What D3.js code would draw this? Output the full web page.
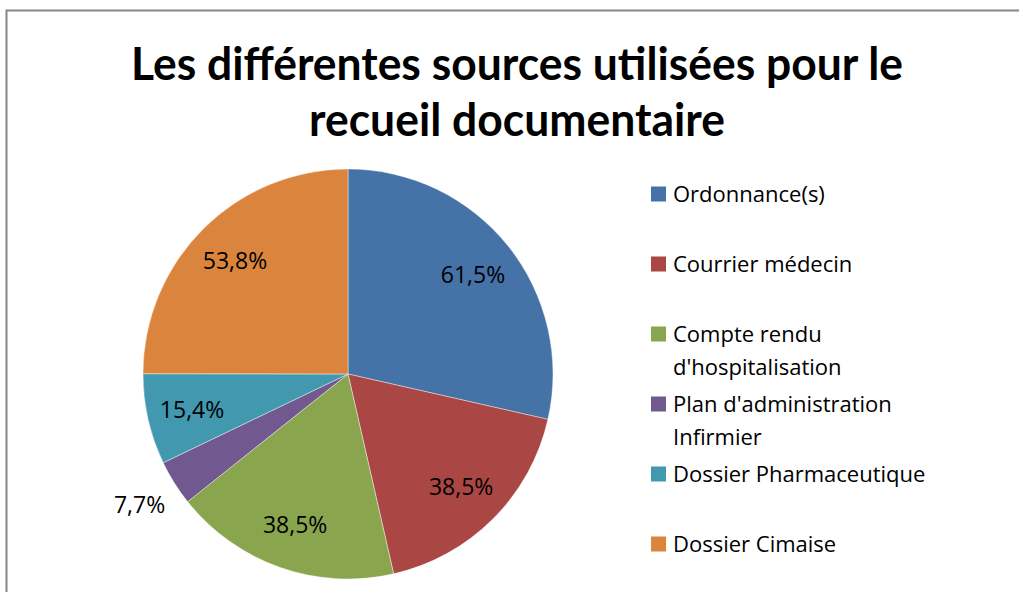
<!DOCTYPE html>
<html>
<head>
<meta charset="utf-8">
<script src="https://cdn.jsdelivr.net/npm/d3@7"></script>
<style>
  body { margin: 0; background: #fff; }
  text { font-family: "Open Sans", Lato, sans-serif; }
  text.title { font-family: Lato, sans-serif; }
</style>
</head>
<body>
<script>
// data
const sources = ["Ordonnance(s)", "Courrier médecin", "Compte rendu d'hospitalisation",
                 "Plan d'administration Infirmier", "Dossier Pharmaceutique", "Dossier Cimaise"];
const legendLines = [["Ordonnance(s)"], ["Courrier médecin"], ["Compte rendu", "d'hospitalisation"],
                     ["Plan d'administration", "Infirmier"], ["Dossier Pharmaceutique"], ["Dossier Cimaise"]];
const percents = [61.5, 38.5, 38.5, 7.7, 15.4, 53.8];
const colors = ["#4572A7", "#AA4643", "#89A54E", "#71588F", "#4198AF", "#DB843D"];
const titleLines = ["Les différentes sources utilisées pour le", "recueil documentaire"];

const w = 1019, h = 592;
const cx = 348, cy = 374, R = 205;

const svg = d3.select("body").append("svg")
    .attr("width", w)
    .attr("height", h);

svg.append("rect")
    .attr("x", 6.5).attr("y", 10.5)
    .attr("width", 1030).attr("height", 620)
    .attr("fill", "#fff")
    .attr("stroke", "#868686")
    .attr("stroke-width", 2);

// title
svg.selectAll(".title")
    .data(titleLines)
    .enter().append("text")
    .attr("class", "title")
    .attr("x", 517)
    .attr("y", function (d, i) { return 80 + i * 56; })
    .attr("text-anchor", "middle")
    .attr("font-size", "46px")
    .attr("font-weight", "bold")
    .attr("textLength", function (d, i) { return i == 0 ? 772 : 416; })
    .attr("lengthAdjust", "spacingAndGlyphs")
    .attr("fill", "#000")
    .text(function (d) { return d; });

const pie = d3.pie().sort(null).value(function (d) { return d; });
const arcs = pie(percents);
const arc = d3.arc().innerRadius(0).outerRadius(R);

const g = svg.append("g").attr("transform", "translate(" + cx + "," + cy + ")");

g.selectAll(".slice")
    .data(arcs)
    .enter().append("path")
    .attr("class", "slice")
    .attr("d", arc)
    .attr("fill", function (d, i) { return colors[i]; })
    .attr("stroke", "#fff")
    .attr("stroke-width", 0.6)
    .attr("stroke-opacity", 0.7);

const fmt = d3.format(".1f");
g.selectAll(".lbl")
    .data(arcs)
    .enter().append("text")
    .attr("class", "lbl")
    .attr("transform", function (d) {
        const a = (d.startAngle + d.endAngle) / 2;
        const r = (d.endAngle - d.startAngle) < 0.3 ? R * 1.2 : R * 0.78;
        return "translate(" + (Math.sin(a) * r) + "," + (-Math.cos(a) * r) + ")";
    })
    .attr("text-anchor", "middle")
    .attr("dy", "0.36em")
    .attr("font-size", "23px")
    .attr("fill", "#000")
    .text(function (d) { return fmt(d.data).replace(".", ",") + "%"; });

// legend
const legend = svg.selectAll(".legend")
    .data(legendLines)
    .enter().append("g")
    .attr("class", "legend")
    .attr("transform", function (d, i) { return "translate(651," + (194 + i * 70) + ")"; });

legend.append("rect")
    .attr("x", 0).attr("y", -7.5)
    .attr("width", 15).attr("height", 15)
    .attr("fill", function (d, i) { return colors[i]; });

legend.selectAll("text")
    .data(function (d) { return d; })
    .enter().append("text")
    .attr("x", 22)
    .attr("y", function (d, i) { return i * 33 + 8; })
    .attr("font-size", "22px")
    .attr("fill", "#000")
    .text(function (d) { return d; });
</script>
</body>
</html>
